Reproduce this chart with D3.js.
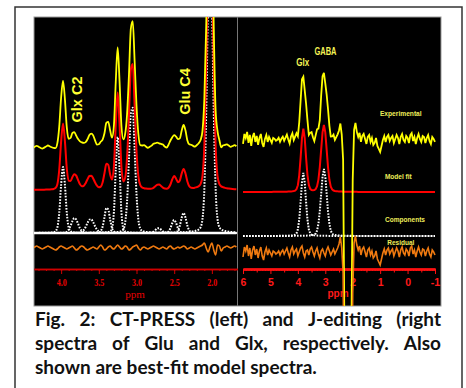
<!DOCTYPE html>
<html>
<head>
<meta charset="utf-8">
<script src="https://cdn.jsdelivr.net/npm/d3@7"></script>
<style>
  body { margin: 0; background: #fff; }
  svg { display: block; }
</style>
</head>
<body>
<svg id="chart" width="466" height="388"></svg>
<script>
/**
 * DATA
 */
// CT-PRESS fitted components: [ppm, height, sigma (ppm)]
const leftPeaks = [
  [3.975, 66, 0.032], // Glx C2
  [3.82, 15, 0.045],
  [3.61, 14, 0.05],
  [3.39, 26, 0.035],
  [3.25, 96, 0.028],
  [3.06, 130, 0.038],
  [2.71, 5, 0.04],
  [2.5, 13, 0.035],
  [2.375, 20, 0.035], // Glu C4
  [2.025, 300, 0.037]
];
// residual sampled from 4.375 ppm down in 0.025 ppm steps
const leftStart = 4.375;
const leftStep = 0.025;
const leftResidual = [
  0, 1, 2, 1, 0, -1, 0, 1, 2, 1,
  0, -1, -2, -1, 1, 2, 1, 0, -1, 0,
  1, 2, 0, -2, -1, 1, 2, 1, -1, -2,
  -1, 0, 1, 0, -1, 1, 3, 1, -2, -1,
  1, 2, 0, -1, 1, 3, 1, -1, 0, 2,
  1, -2, -1, 1, 2, 3, 0, -2, 0, 1,
  0, -1, 0, 1, 2, 1, 0, -1, 0, 1,
  0, -1, 1, 2, 0, -1, 0, 1, 0, 1,
  2, 1, -1, 0, 1, 0, -1, 0, 1, 2,
  3, 5, 0, -4, 1, 5, -2, -7, 3, 2,
  -3, 0, 1, 2, 1, 0, 1, 2, 1
];
const leftTicks = [4.0, 3.5, 3.0, 2.5, 2.0];

// J-editing fitted components
const rightPeaks = [
  [3.8, 63, 0.09], // Glx
  [3.05, 67, 0.105] // GABA
];
// residual sampled from 6 ppm down in 0.05 ppm steps
const rightStart = 6;
const rightStep = 0.05;
const rightResidual = [
  -4, 6, 2, 8, -3, 5, -6, 3, 7, -2,
  4, -5, 2, 6, -3, -7, 1, 5, -2, 3,
  0, -3, 2, 1, -1, 0, 2, -2, 1, 3,
  -1, 2, 5, 0, -4, 3, 6, -1, 2, 4,
  -3, 1, 5, 7, 0, -4, 2, 3, -2, 4,
  6, 1, -3, 2, 5, -1, -5, 2, 4, 0,
  -3, 3, 6, 2, -2, 1, 4, -1, 2, 5,
  9, 16, 5, -20, -200, -300, -300, -300, -300, -200,
  -40, 10, 17, 8, 3, 7, -2, 4, 6, 1,
  -4, 3, 5, -2, 2, -5, -3, 2, -6, -9,
  -12, -6, 0, 4, -2, 3, 5, -1, 2, 4,
  -3, 1, 5, 2, -4, 3, 6, 0, -2, 4,
  2, -3, 5, 7, -1, 3, -4, 2, 6, 1,
  -2, 4, 3, -3, 2, 5, -1, -4, 3, 1, -2
];
const rightTicks = [6, 5, 4, 3, 2, 1, 0, -1];

const traceNames = ['Experimental', 'Model fit', 'Components', 'Residual'];
const captionLines = [
  'Fig. 2: CT-PRESS (left) and J-editing (right',
  'spectra of Glu and Glx, respectively. Also',
  'shown are best-fit model spectra.'
];

/**
 * SIZE DEFINITIONS
 */
const svg = d3.select('#chart');
const panel = { left: 34, top: 17, right: 441, bottom: 306, split: 237.5 };
const axisY = 269;

const xL = d3.scaleLinear().domain([4.36, 1.66]).range([panel.left, panel.split]);
const xR = d3.scaleLinear().domain([6, -1]).range([243, 435]);
const amp = d3.scaleLinear().domain([0, 100]).range([0, -100]);

function lineshape(p, [c, h, s]) {
  const d = (p - c) / s;
  const gam = s * 1.1774;
  return h * (0.85 * Math.exp(-d * d / 2) + 0.15 / (1 + ((p - c) / gam) ** 2));
}

/**
 * FRAME
 */
svg.append('rect').attr('width', 466).attr('height', 388).attr('fill', '#fff');
svg.append('rect')
  .attr('x', 15).attr('y', 7).attr('width', 447).attr('height', 395)
  .attr('fill', 'none').attr('stroke', '#333').attr('stroke-width', 1.5);
svg.append('rect')
  .attr('x', panel.left).attr('y', panel.top)
  .attr('width', panel.right - panel.left).attr('height', panel.bottom - panel.top)
  .attr('fill', '#000').attr('stroke', '#999').attr('stroke-width', 1);
svg.append('line')
  .attr('x1', panel.split).attr('x2', panel.split)
  .attr('y1', panel.top).attr('y2', panel.bottom)
  .attr('stroke', '#777').attr('stroke-width', 1);

const defs = svg.append('defs');
defs.append('clipPath').attr('id', 'clip-left').append('rect')
  .attr('x', panel.left).attr('y', panel.top)
  .attr('width', panel.split - panel.left - 0.5).attr('height', panel.bottom - panel.top);
defs.append('clipPath').attr('id', 'clip-right').append('rect')
  .attr('x', panel.split + 0.5).attr('y', panel.top)
  .attr('width', panel.right - panel.split - 0.5).attr('height', panel.bottom - panel.top);

/**
 * AXES
 */
function styleAxis(g, color, width) {
  g.select('.domain').attr('stroke', color).attr('stroke-width', width);
  g.selectAll('.tick line').attr('stroke', color).attr('stroke-width', 1);
}

// left: serif labels
const gLMinor = svg.append('g').attr('transform', `translate(0,${axisY})`)
  .call(d3.axisBottom(xL).tickValues(d3.range(17, 44).map(d => d / 10)).tickSize(2).tickSizeOuter(0).tickFormat(''));
styleAxis(gLMinor, '#d00000', 1.5);
const gL = svg.append('g').attr('transform', `translate(0,${axisY})`)
  .call(d3.axisBottom(xL).tickValues(leftTicks).tickSize(5).tickSizeOuter(0).tickPadding(4.5).tickFormat(d3.format('.1f')));
styleAxis(gL, '#d00000', 1.5);
gL.selectAll('text')
  .attr('fill', '#e80000')
  .attr('font-family', 'Liberation Serif, serif')
  .attr('font-weight', 'bold')
  .attr('font-size', 11)
  .attr('textLength', 10)
  .attr('lengthAdjust', 'spacingAndGlyphs');
svg.append('text')
  .attr('x', 135).attr('y', 297.5).attr('text-anchor', 'middle')
  .attr('fill', '#e80000').attr('font-family', 'Liberation Serif, serif')
  .attr('font-size', 11).text('ppm');

// right: sans labels
const gRMinor = svg.append('g').attr('transform', `translate(0,${axisY})`)
  .call(d3.axisBottom(xR).tickValues(d3.range(-10, 61).map(d => d / 10)).tickSize(2).tickSizeOuter(0).tickFormat(''));
styleAxis(gRMinor, '#ff1010', 2);
const gRHalf = svg.append('g').attr('transform', `translate(0,${axisY})`)
  .call(d3.axisBottom(xR).tickValues(d3.range(-1, 6).map(d => d + 0.5)).tickSize(3.5).tickSizeOuter(0).tickFormat(''));
styleAxis(gRHalf, '#ff1010', 2);
const gR = svg.append('g').attr('transform', `translate(0,${axisY})`)
  .call(d3.axisBottom(xR).tickValues(rightTicks).tickSize(5).tickSizeOuter(0).tickPadding(4.5).tickFormat(d => String(d)));
styleAxis(gR, '#ff1010', 2);
gR.selectAll('text')
  .attr('fill', '#ff1a1a')
  .attr('font-family', 'Liberation Sans, Arial, sans-serif')
  .attr('font-weight', 'bold')
  .attr('font-size', 10.5);
svg.append('text')
  .attr('x', 338).attr('y', 297).attr('text-anchor', 'middle')
  .attr('fill', '#ff1a1a').attr('font-family', 'Liberation Sans, Arial, sans-serif')
  .attr('font-weight', 'bold').attr('font-size', 10).text('ppm');

/**
 * SPECTRA
 */
function drawPanel({ x, peaks, residual, start, step, base, clipId, curve, solidBase }) {
  const ppm = residual.map((_, i) => start - i * step);
  const fit = ppm.map(p => ({ ppm: p, v: d3.sum(peaks, pk => lineshape(p, pk)) }));
  const expt = fit.map((d, i) => ({ ppm: d.ppm, v: d.v + residual[i] }));
  const res = ppm.map((p, i) => ({ ppm: p, v: residual[i] }));
  const comps = peaks.map(pk => ppm.map(p => ({ ppm: p, v: lineshape(p, pk) })));

  const line = d3.line().x(d => x(d.ppm)).y(d => amp(d.v)).curve(curve);
  const g = svg.append('g').attr('clip-path', `url(#${clipId})`);

  // zero line under the components
  if (solidBase) {
    g.append('line')
      .attr('transform', `translate(0,${base.comp})`)
      .attr('x1', x(ppm[0])).attr('x2', x(ppm[ppm.length - 1]))
      .attr('y1', amp(0)).attr('y2', amp(0))
      .attr('stroke', '#fff').attr('stroke-width', 2.5);
  }

  g.selectAll('path.comp')
    .data(comps)
    .join('path')
    .attr('class', 'comp')
    .attr('transform', `translate(0,${base.comp})`)
    .attr('d', line)
    .attr('fill', 'none')
    .attr('stroke', '#fff')
    .attr('stroke-width', 2)
    .attr('stroke-dasharray', '1.6,1.4');

  g.append('path')
    .attr('transform', `translate(0,${base.fit})`)
    .attr('d', line(fit))
    .attr('fill', 'none').attr('stroke', '#ff0000').attr('stroke-width', 2);

  g.append('path')
    .attr('transform', `translate(0,${base.exp})`)
    .attr('d', line(expt))
    .attr('fill', 'none').attr('stroke', '#ffff00').attr('stroke-width', 1.8);

  g.append('path')
    .attr('transform', `translate(0,${base.res})`)
    .attr('d', line(res))
    .attr('fill', 'none').attr('stroke', '#f07a10').attr('stroke-width', 1.6);
}

drawPanel({
  x: xL, peaks: leftPeaks, residual: leftResidual, start: leftStart, step: leftStep,
  base: { exp: 148, fit: 190, comp: 233, res: 248 }, clipId: 'clip-left',
  curve: d3.curveMonotoneX, solidBase: true
});
drawPanel({
  x: xR, peaks: rightPeaks, residual: rightResidual, start: rightStart, step: rightStep,
  base: { exp: 140, fit: 192, comp: 236, res: 253 }, clipId: 'clip-right',
  curve: d3.curveLinear, solidBase: false
});

/**
 * LABELS
 */
const labelFont = 'Liberation Sans, Arial, sans-serif';

// rotated peak names, left panel
[['Glx C2', 82, 99.5], ['Glu C4', 190, 91.5]].forEach(([t, bx, cy]) => {
  svg.append('text')
    .attr('transform', `translate(${bx},${cy}) rotate(-90)`)
    .attr('text-anchor', 'middle')
    .attr('fill', '#ffff33')
    .attr('font-family', labelFont)
    .attr('font-weight', 'bold')
    .attr('font-size', 14.5)
    .text(t);
});

// peak names, right panel
[['Glx', 302.7, 66, 13], ['GABA', 325.5, 55, 22]].forEach(([t, cx, by, len]) => {
  svg.append('text')
    .attr('x', cx).attr('y', by)
    .attr('text-anchor', 'middle')
    .attr('fill', '#f4f455')
    .attr('font-family', labelFont)
    .attr('font-weight', 'bold')
    .attr('font-size', 10)
    .attr('textLength', len)
    .attr('lengthAdjust', 'spacingAndGlyphs')
    .text(t);
});

// trace names, right panel
const traceLabelPos = [[400.8, 115.5, 41.7], [398.3, 179, 26.7], [405, 221.5, 40], [400.8, 245, 27]];
svg.selectAll('text.trace')
  .data(traceNames)
  .join('text')
  .attr('class', 'trace')
  .attr('x', (d, i) => traceLabelPos[i][0])
  .attr('y', (d, i) => traceLabelPos[i][1])
  .attr('textLength', (d, i) => traceLabelPos[i][2])
  .attr('lengthAdjust', 'spacingAndGlyphs')
  .attr('text-anchor', 'middle')
  .attr('fill', '#eeee5a')
  .attr('font-family', labelFont)
  .attr('font-weight', 'bold')
  .attr('font-size', 8)
  .text(d => d);

/**
 * CAPTION (justified like the paper)
 */
const capLeft = 35;
const capRight = 441;
const capBaselines = [326, 350, 374];

captionLines.forEach((lineText, li) => {
  const justify = li < captionLines.length - 1;
  const g = svg.append('g')
    .attr('font-family', 'Lato, Carlito, sans-serif')
    .attr('font-weight', 'bold')
    .attr('font-size', 19)
    .attr('fill', '#111');
  if (!justify) {
    g.append('text').attr('x', capLeft).attr('y', capBaselines[li]).text(lineText);
    return;
  }
  const words = lineText.split(' ');
  const texts = g.selectAll('text').data(words).join('text')
    .attr('y', capBaselines[li]).text(d => d);
  const widths = texts.nodes().map(n => n.getComputedTextLength());
  const gap = (capRight - capLeft - d3.sum(widths)) / (words.length - 1);
  const xs = [];
  widths.reduce((acc, w) => { xs.push(acc); return acc + w + gap; }, capLeft);
  texts.attr('x', (d, i) => xs[i]);
});
</script>
</body>
</html>
